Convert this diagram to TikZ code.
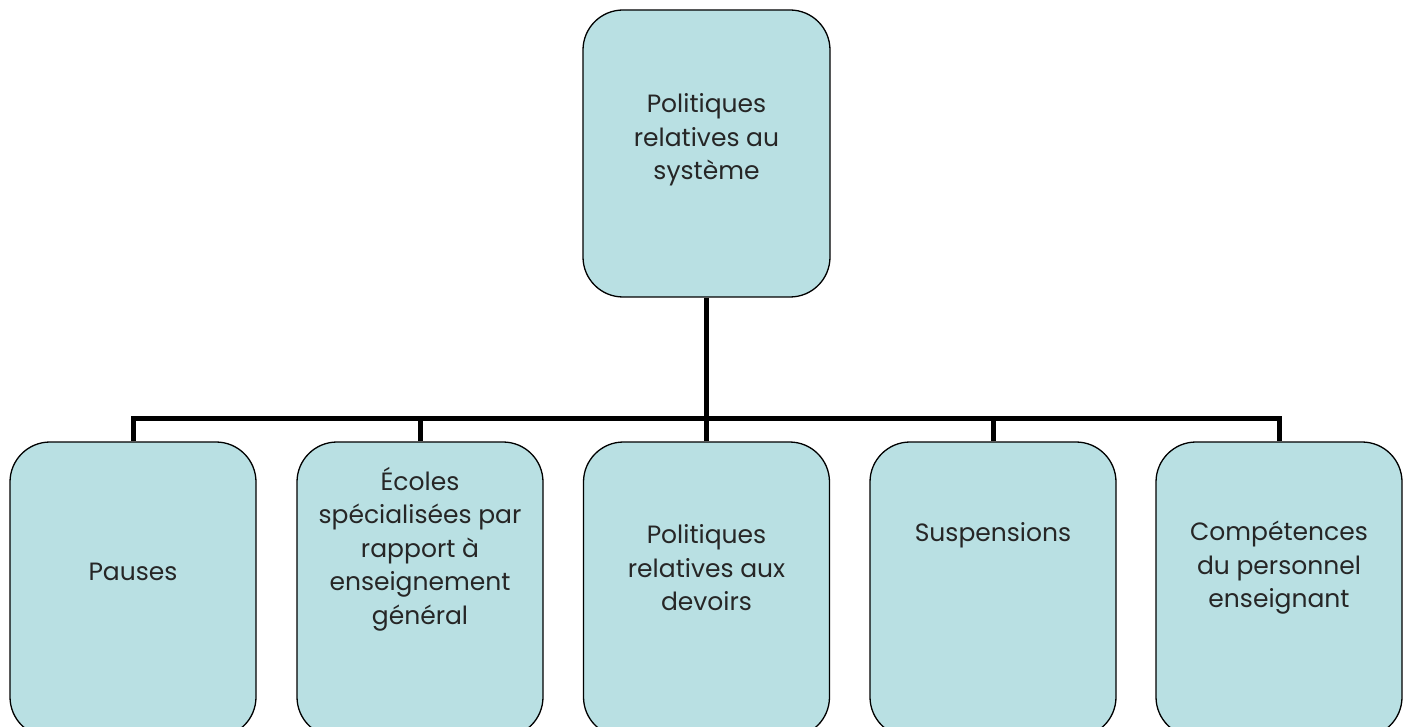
\documentclass[tikz,border=0pt]{standalone}
\usepackage{fontspec}
\setmainfont{Poppins}
\usetikzlibrary{positioning}

\definecolor{boxfill}{RGB}{185,224,227}
\definecolor{textgray}{RGB}{38,38,38}

\begin{document}
\begin{tikzpicture}[x=1pt,y=-1pt]

	\tikzset{box/.style={
				draw=black,
				line width=1.3pt,
				fill=boxfill,
				rounded corners=40pt,
				minimum width=246pt,
				minimum height=295pt,
				inner sep=0pt}
	}
	\tikzset{boxtext/.style={
				align=center,
				text=textgray,
				font=\fontsize{25}{33.5}\selectfont}
	}
	\tikzset{link/.style={line width=5pt,miter limit=10}}

	\useasboundingbox (0,0) rectangle (1408,727);

	% top of the tree
	\node[box,minimum width=247pt,minimum height=287pt] (top) at (706.5,153.5) {};
	\node[boxtext] (toptext) at (706.5,140) {Politiques\\relatives au\\système};

	\coordinate (bus) at (706.5,418);

	\foreach \i/\x/\ty/\txt in {1/133/572/{Pauses},
			2/420/549/{Écoles\\spécialisées par\\rapport à\\enseignement\\général},
			3/706.5/568/{Politiques\\relatives aux\\devoirs},
			4/993/535/{Suspensions},
			5/1279/568/{Compétences\\du personnel\\enseignant}} {
			\node[box] (b\i) at (\x,589.5) {};
			\node[boxtext] (t\i) at (\x,\ty) {\txt};
		}

	% connectors
	\draw[link] (top.south) -- (bus);
	\draw[link] (b1.north) -- (b1.north |- bus) -- (b5.north |- bus) -- (b5.north);
	\foreach \i in {2,3,4} {
			\draw[link] (b\i.north) -- (b\i.north |- bus);
		}

\end{tikzpicture}
\end{document}
